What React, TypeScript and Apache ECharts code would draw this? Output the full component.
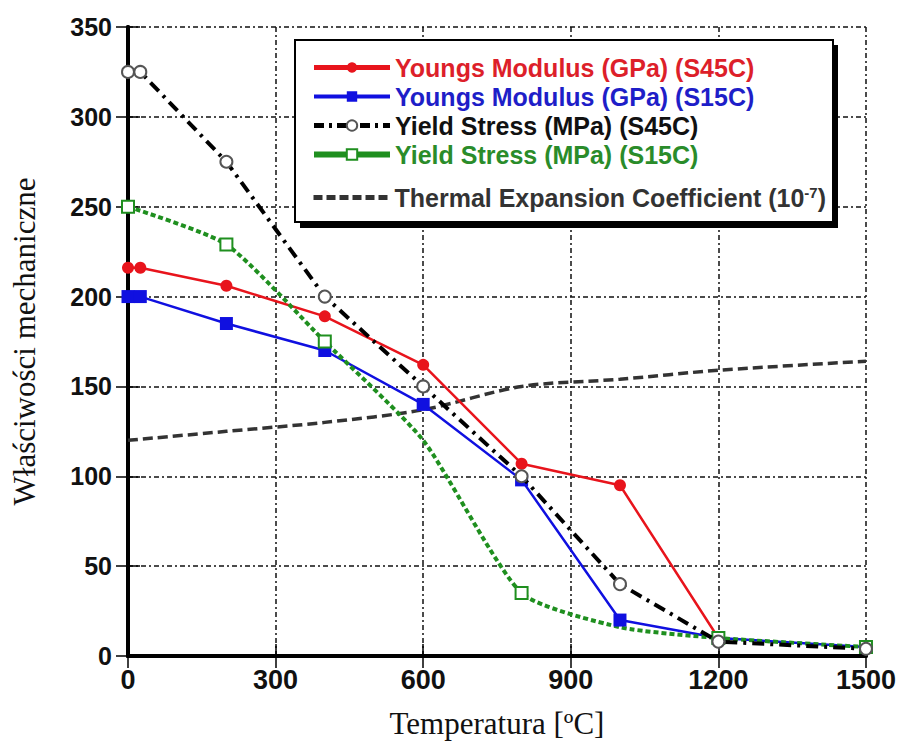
import React, { useEffect, useRef } from "react";
import * as echarts from "echarts";

const xTicks = [0, 300, 600, 900, 1200, 1500];
const yTicks = [0, 50, 100, 150, 200, 250, 300, 350];

const youngsS45CT = [0, 25, 200, 400, 600, 800, 1000, 1200];
const youngsS45C = [216, 216, 206, 189, 162, 107, 95, 10];

const youngsS15CT = [0, 25, 200, 400, 600, 800, 1000, 1200, 1500];
const youngsS15C = [200, 200, 185, 170, 140, 98, 20, 10, 5];

const yieldS45CT = [0, 25, 200, 400, 600, 800, 1000, 1200, 1500];
const yieldS45C = [325, 325, 275, 200, 150, 100, 40, 8, 4];

const yieldS15CT = [0, 200, 400, 600, 800, 1000, 1200, 1500];
const yieldS15C = [250, 229, 175, 120, 35, 16, 10, 5];
const yieldS15CMarked = [true, true, true, false, true, false, true, true];

const thermalT = [0, 200, 400, 600, 800, 1000, 1200, 1500];
const thermal = [120, 125, 130, 137, 150, 154, 159, 164];

const names = [
  "Youngs Modulus (GPa) (S45C)",
  "Youngs Modulus (GPa) (S15C)",
  "Yield Stress (MPa) (S45C)",
  "Yield Stress (MPa) (S15C)",
  "Thermal Expansion Coefficient (10-7)",
];

const pairs = (xs: number[], ys: number[]) => xs.map((x, i) => [x, ys[i]]);

export default function App() {
  const ref = useRef<HTMLDivElement>(null);
  useEffect(() => {
    if (!ref.current) return;
    const chart = echarts.init(ref.current, undefined, { renderer: "svg" });
    const sans = "Liberation Sans, Arial, sans-serif";
    const serif = "Liberation Serif, Times New Roman, serif";
    const axisLine = { show: true, lineStyle: { color: "#000", width: 4 } };
    const tick = { show: true, inside: true, length: 12, lineStyle: { color: "#000", width: 1.5 } };
    const grid = { show: true, lineStyle: { color: "#111", width: 1.5, type: [5, 3, 2, 3] } };
    const legendText = { fontFamily: sans, fontWeight: "bold" as const, fontSize: 25 };
    chart.setOption({
      animation: false,
      backgroundColor: "#fff",
      grid: { left: 128, right: 29, top: 27, bottom: 91 },
      xAxis: [
        {
          type: "value",
          min: 0,
          max: 1500,
          interval: 300,
          axisLine,
          axisTick: tick,
          splitLine: grid,
          axisLabel: {
            margin: 10,
            color: "#111",
            fontFamily: "Liberation Sans Narrow, Arial Narrow, Liberation Sans, sans-serif",
            fontWeight: "bold",
            fontSize: 27,
            formatter: (v: number) => (xTicks.includes(v) ? String(v) : ""),
          },
          name: "Temperatura [ºC]",
          nameLocation: "middle",
          nameGap: 52,
          nameTextStyle: { fontFamily: serif, fontSize: 31, color: "#111" },
        },
        {
          type: "value",
          position: "top",
          min: 0,
          max: 1500,
          interval: 300,
          axisLine,
          axisTick: tick,
          splitLine: { show: false },
          axisLabel: { show: false },
        },
      ],
      yAxis: [
        {
          type: "value",
          min: 0,
          max: 350,
          interval: 50,
          axisLine,
          axisTick: tick,
          splitLine: grid,
          axisLabel: {
            margin: 16,
            color: "#111",
            fontFamily: sans,
            fontWeight: "bold",
            fontSize: 25,
            formatter: (v: number) => (yTicks.includes(v) ? String(v) : ""),
          },
          name: "Właściwości mechaniczne",
          nameLocation: "middle",
          nameGap: 88,
          nameTextStyle: { fontFamily: serif, fontSize: 31, color: "#111" },
        },
        {
          type: "value",
          position: "right",
          min: 0,
          max: 350,
          interval: 50,
          axisLine,
          axisTick: tick,
          splitLine: { show: false },
          axisLabel: { show: false },
        },
      ],
      graphic: [
        { type: "rect", z: 5, shape: { x: 300, y: 45, width: 538, height: 183 }, style: { fill: "#000" } },
        {
          type: "rect",
          z: 6,
          shape: { x: 295, y: 40, width: 538, height: 182 },
          style: { fill: "#fff", stroke: "#000", lineWidth: 2 },
        },
      ],
      legend: [
        {
          z: 10,
          orient: "vertical",
          left: 306,
          top: 50,
          itemWidth: 76,
          itemHeight: 13,
          itemGap: 4,
          textStyle: legendText,
          data: [
            { name: names[0], textStyle: { color: "#dd1f2a" }, lineStyle: { width: 5 } },
            { name: names[1], textStyle: { color: "#1e1ec8" }, lineStyle: { width: 4 } },
            { name: names[2], textStyle: { color: "#111" }, lineStyle: { width: 5, type: [10, 5, 3, 5] } },
            { name: names[3], textStyle: { color: "#2a8c2a" }, lineStyle: { width: 6, type: "solid" } },
          ],
        },
        {
          z: 10,
          orient: "vertical",
          left: 306,
          top: 180,
          itemWidth: 76,
          itemHeight: 13,
          data: [{ name: names[4], lineStyle: { width: 5, type: [9, 4] }, itemStyle: { opacity: 0 } }],
          formatter: () => "{n|Thermal Expansion Coefficient (10}{s|-7}{n|)}",
          textStyle: {
            ...legendText,
            color: "#333",
            rich: {
              n: { ...legendText, color: "#333" },
              s: { fontFamily: sans, fontWeight: "bold", fontSize: 15, color: "#333", verticalAlign: "top", padding: [0, 0, 10, 0] },
            },
          },
        },
      ],
      series: [
        {
          name: names[0],
          type: "line",
          data: pairs(youngsS45CT, youngsS45C),
          symbol: "circle",
          symbolSize: 12,
          lineStyle: { color: "#e8141c", width: 2.5 },
          itemStyle: { color: "#e8141c" },
          z: 3,
        },
        {
          name: names[1],
          type: "line",
          data: pairs(youngsS15CT, youngsS15C),
          symbol: "rect",
          symbolSize: 13,
          lineStyle: { color: "#1010e0", width: 2.5 },
          itemStyle: { color: "#1010e0" },
          z: 3,
        },
        {
          name: names[2],
          type: "line",
          data: pairs(yieldS45CT, yieldS45C),
          symbol: "emptyCircle",
          symbolSize: 12,
          lineStyle: { color: "#000", width: 4, type: [12, 6, 3, 6] },
          itemStyle: { color: "#555", borderWidth: 1.5 },
          z: 4,
        },
        {
          name: names[3],
          type: "line",
          smooth: 0.2,
          data: yieldS15CT.map((x, i) => ({
            value: [x, yieldS15C[i]],
            symbol: yieldS15CMarked[i] ? "emptyRect" : "none",
          })),
          symbol: "emptyRect",
          symbolSize: 12,
          lineStyle: { color: "#1f8f1f", width: 4, type: [5, 3] },
          itemStyle: { color: "#1f8f1f", borderWidth: 1.5 },
          z: 3,
        },
        {
          name: names[4],
          type: "line",
          smooth: 0.3,
          data: pairs(thermalT, thermal),
          symbol: "none",
          lineStyle: { color: "#333", width: 3.5, type: [10, 5] },
          itemStyle: { color: "#333" },
          z: 2,
        },
      ],
    });
    return () => chart.dispose();
  }, []);
  return <div ref={ref} style={{ position: "fixed", left: 0, top: 0, width: 899, height: 747 }} />;
}
